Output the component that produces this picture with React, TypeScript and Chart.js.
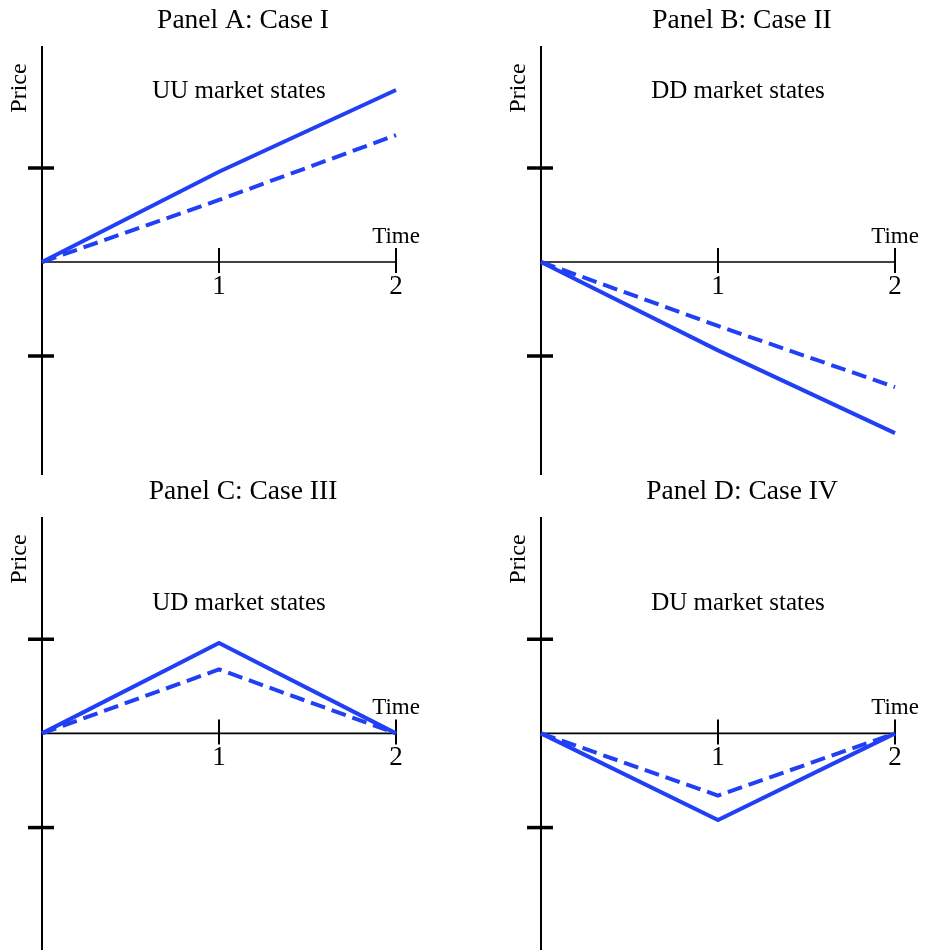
import React, { useEffect, useRef } from "react";
import { Chart, registerables } from "chart.js";

Chart.register(...registerables);

// ---- Data ----
const times = [0, 1, 2];
const xTickValues = [1, 2];
const xTickLabels = ["1", "2"];
const yTickValues = [1, -1];

const caseISolid = [0, 0.96, 1.83];
const caseIDashed = [0, 0.66, 1.35];
const caseIISolid = [0, -0.94, -1.82];
const caseIIDashed = [0, -0.68, -1.33];
const caseIIISolid = [0, 0.96, 0];
const caseIIIDashed = [0, 0.68, 0];
const caseIVSolid = [0, -0.92, 0];
const caseIVDashed = [0, -0.66, 0];

const panelTitles = ["Panel A: Case I", "Panel B: Case II", "Panel C: Case III", "Panel D: Case IV"];
const stateLabels = ["UU market states", "DD market states", "UD market states", "DU market states"];

const FONT = "'Liberation Serif', 'Times New Roman', serif";
const BLUE = "#2140f5";

type PanelProps = {
  left: number;
  top: number;
  height: number;
  yMin: number;
  yMax: number;
  title: string;
  stateLabel: string;
  stateLabelY: number;
  solid: number[];
  dashed: number[];
};

const WIDTH = 426;

function Panel(p: PanelProps) {
  const ref = useRef<HTMLCanvasElement | null>(null);
  useEffect(() => {
    if (!ref.current) return;
    const decor = {
      id: "panelDecor",
      beforeDatasetsDraw(chart: any) {
        const { ctx, chartArea } = chart;
        const xs = chart.scales.x;
        const ys = chart.scales.y;
        const x0 = xs.getPixelForValue(0);
        const y0 = ys.getPixelForValue(0);
        const xEnd = xs.getPixelForValue(xTickValues[xTickValues.length - 1]);
        ctx.save();
        ctx.strokeStyle = "#000";
        ctx.lineCap = "butt";
        // y axis
        ctx.lineWidth = 2;
        ctx.beginPath();
        ctx.moveTo(x0, chartArea.top);
        ctx.lineTo(x0, chartArea.bottom);
        ctx.stroke();
        // x axis
        ctx.lineWidth = 1.6;
        ctx.beginPath();
        ctx.moveTo(x0, y0);
        ctx.lineTo(xEnd, y0);
        ctx.stroke();
        // x ticks
        ctx.lineWidth = 2;
        xTickValues.forEach((t) => {
          const px = xs.getPixelForValue(t);
          ctx.beginPath();
          ctx.moveTo(px, y0 - 14);
          ctx.lineTo(px, y0 + 11);
          ctx.stroke();
        });
        // y ticks
        ctx.lineWidth = 3.5;
        yTickValues.forEach((v) => {
          const py = ys.getPixelForValue(v);
          ctx.beginPath();
          ctx.moveTo(x0 - 14, py);
          ctx.lineTo(x0 + 12, py);
          ctx.stroke();
        });
        // text
        ctx.fillStyle = "#000";
        ctx.textAlign = "center";
        ctx.textBaseline = "middle";
        ctx.font = `27px ${FONT}`;
        xTickValues.forEach((t, i) => {
          ctx.fillText(xTickLabels[i], xs.getPixelForValue(t), y0 + 25);
        });
        ctx.font = `23px ${FONT}`;
        ctx.fillText("Time", xEnd, y0 - 25);
        ctx.font = `25px ${FONT}`;
        ctx.fillText(p.stateLabel, x0 + 197, ys.getPixelForValue(p.stateLabelY));
        ctx.font = `27.5px ${FONT}`;
        ctx.fillText(p.title, x0 + 201, 21);
        ctx.save();
        ctx.translate(x0 - 22, 88);
        ctx.rotate(-Math.PI / 2);
        ctx.font = `24px ${FONT}`;
        ctx.fillText("Price", 0, 0);
        ctx.restore();
        ctx.restore();
      },
    };
    const chart = new Chart(ref.current, {
      type: "line",
      data: {
        datasets: [
          {
            data: times.map((t, i) => ({ x: t, y: p.dashed[i] })),
            borderColor: BLUE,
            borderWidth: 4,
            borderDash: [15, 7],
            pointRadius: 0,
            fill: false,
            clip: false as any,
          },
          {
            data: times.map((t, i) => ({ x: t, y: p.solid[i] })),
            borderColor: BLUE,
            borderWidth: 4,
            pointRadius: 0,
            fill: false,
            clip: false as any,
          },
        ],
      },
      options: {
        animation: false,
        responsive: false,
        layout: { padding: { left: 42, right: WIDTH - 396, top: 46, bottom: 1 } },
        scales: {
          x: { type: "linear", min: 0, max: 2, display: false },
          y: { type: "linear", min: p.yMin, max: p.yMax, display: false },
        },
        plugins: { legend: { display: false }, tooltip: { enabled: false }, title: { display: false } },
      },
      plugins: [decor],
    });
    return () => chart.destroy();
  }, []);
  return (
    <canvas
      ref={ref}
      width={WIDTH}
      height={p.height}
      style={{ position: "absolute", left: p.left, top: p.top, width: WIDTH, height: p.height }}
    />
  );
}

export default function App() {
  return (
    <div style={{ position: "absolute", left: 0, top: 0, width: 925, height: 952, overflow: "hidden", background: "#fff" }}>
      <Panel left={0} top={0} height={476} yMin={-2.266} yMax={2.298} title={panelTitles[0]} stateLabel={stateLabels[0]} stateLabelY={1.81} solid={caseISolid} dashed={caseIDashed} />
      <Panel left={499} top={0} height={476} yMin={-2.266} yMax={2.298} title={panelTitles[1]} stateLabel={stateLabels[1]} stateLabelY={1.81} solid={caseIISolid} dashed={caseIIDashed} />
      <Panel left={0} top={471} height={480} yMin={-2.30} yMax={2.298} title={panelTitles[2]} stateLabel={stateLabels[2]} stateLabelY={1.38} solid={caseIIISolid} dashed={caseIIIDashed} />
      <Panel left={499} top={471} height={480} yMin={-2.30} yMax={2.298} title={panelTitles[3]} stateLabel={stateLabels[3]} stateLabelY={1.38} solid={caseIVSolid} dashed={caseIVDashed} />
    </div>
  );
}
